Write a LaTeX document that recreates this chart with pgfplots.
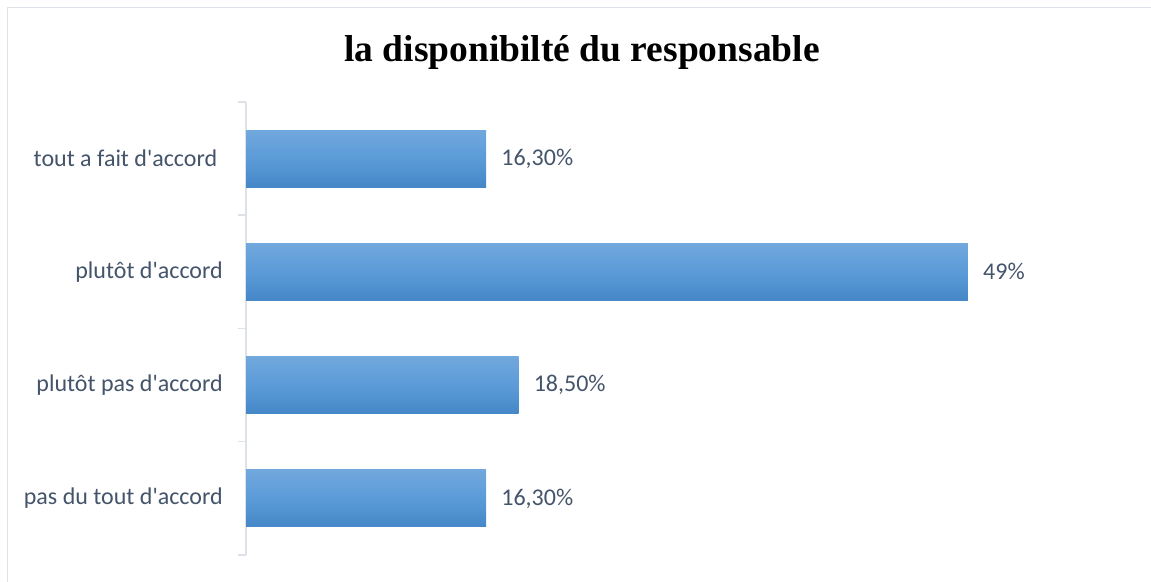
\documentclass[border=0pt]{standalone}
\usepackage{pgfplots}
\pgfplotsset{compat=1.18}
\usepackage{fontspec}
\setmainfont{Carlito}
\newfontfamily\titlefont{Liberation Serif}
\definecolor{txt}{HTML}{44546A}
\definecolor{barTop}{HTML}{71A8DD}
\definecolor{barMid}{HTML}{5B9BD8}
\definecolor{barBot}{HTML}{4587C7}
\definecolor{frame}{HTML}{DDE2E8}
\newcommand{\q}{\textquotesingle}
\pgfplotsset{mybar/.style={xbar, bar width=57pt, draw=none, mark=none,
    top color=barTop, bottom color=barBot, middle color=barMid,
    nodes near coords, point meta=explicit symbolic,
    nodes near coords style={anchor=west, inner sep=0pt, xshift=15pt, font=\fontsize{24}{28}\selectfont, text=txt}}}
\begin{document}
\begin{tikzpicture}[x=1pt,y=1pt]
\path[use as bounding box] (0,0) rectangle (1151,581);
\draw[frame, line width=1.5pt] (7.5,-5) -- (7.5,573.5) -- (1160,573.5);
\node[anchor=base, inner sep=0pt, font=\titlefont\bfseries\fontsize{37.5}{44}\selectfont] at (582,519) {la disponibilté du responsable};
\begin{axis}[at={(246pt,26pt)}, anchor=south west, scale only axis,
  width=854.6pt, height=453pt,
  xmin=0, xmax=58, ymin=-0.5, ymax=3.5,
  axis x line=none, axis y line*=left,
  axis line style={frame, line width=1.5pt, -},
  ytick={0,1,2,3},
  yticklabels={pas du tout d\q accord, plutôt pas d\q accord, plutôt d\q accord, {tout a fait d\q accord\kern5.5pt}},
  major tick length=0pt,
  minor ytick={-0.5,0.5,1.5,2.5,3.5}, minor tick length=8pt, tick align=outside,
  minor tick style={frame, line width=1.5pt},
  yticklabel style={font=\fontsize{24}{28}\selectfont, text=txt, anchor=east, inner sep=0pt, xshift=-23pt},
  clip=false]
\addplot[mybar] coordinates {(16.3,3) [16,30\%]};
\addplot[mybar] coordinates {(49,2) [49\%]};
\addplot[mybar] coordinates {(18.5,1) [18,50\%]};
\addplot[mybar] coordinates {(16.3,0) [16,30\%]};
\end{axis}
\end{tikzpicture}
\end{document}
